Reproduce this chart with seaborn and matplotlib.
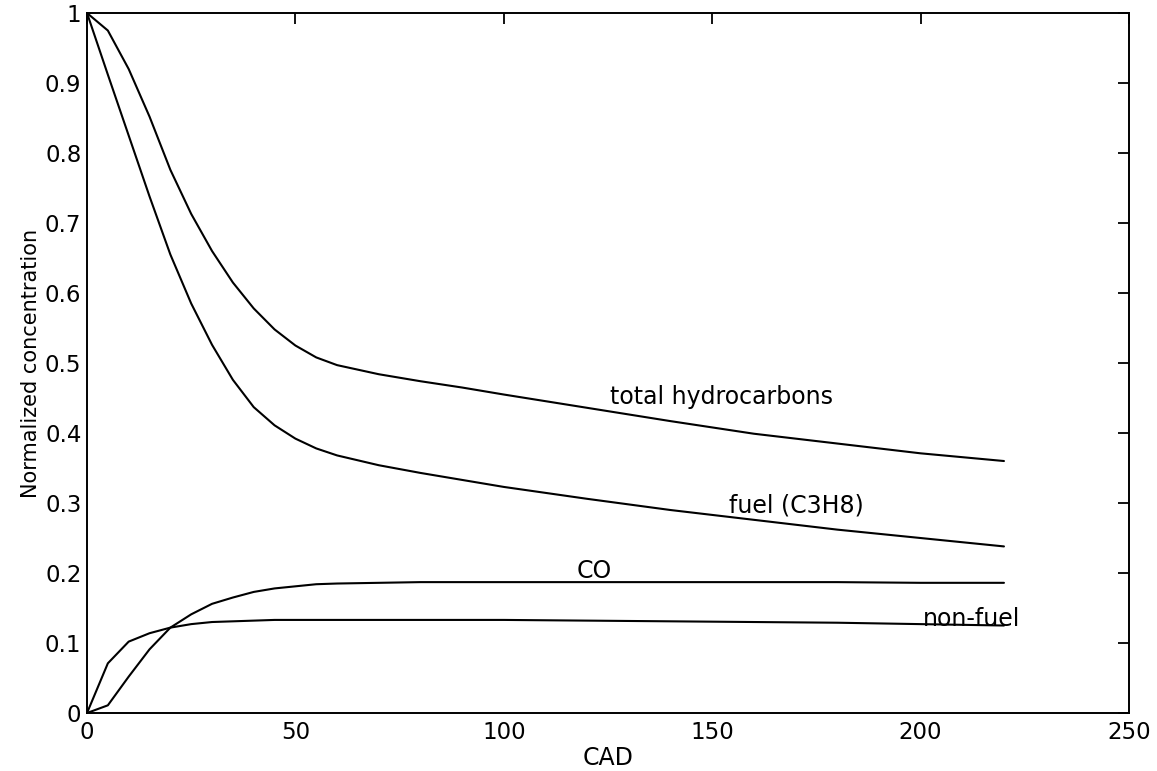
import numpy as np
import pandas as pd
import matplotlib
matplotlib.use("Agg")
import matplotlib.pyplot as plt
import seaborn as sns

cad = [0, 5, 10, 15, 20, 25, 30, 35, 40, 45, 50, 55, 60, 70, 80, 90, 100, 120, 140, 160, 180, 200, 220]
total_hc = [1.0, 0.975, 0.92, 0.852, 0.776, 0.713, 0.66, 0.615, 0.578, 0.548, 0.525, 0.508, 0.497,
            0.484, 0.474, 0.465, 0.455, 0.436, 0.417, 0.399, 0.385, 0.371, 0.36]
fuel = [1.0, 0.912, 0.825, 0.738, 0.655, 0.585, 0.526, 0.476, 0.437, 0.411, 0.392, 0.378, 0.368,
        0.354, 0.343, 0.333, 0.323, 0.306, 0.29, 0.276, 0.262, 0.25, 0.238]
co = [0.0, 0.011, 0.052, 0.091, 0.122, 0.141, 0.156, 0.165, 0.173, 0.178, 0.181, 0.184, 0.185,
      0.186, 0.187, 0.187, 0.187, 0.187, 0.187, 0.187, 0.187, 0.186, 0.186]
non_fuel = [0.0, 0.071, 0.102, 0.114, 0.122, 0.127, 0.13, 0.131, 0.132, 0.133, 0.133, 0.133, 0.133,
            0.133, 0.133, 0.133, 0.133, 0.132, 0.131, 0.130, 0.129, 0.127, 0.125]

series_names = ["total hydrocarbons", "fuel (C3H8)", "CO", "non-fuel"]
label_x = [125.5, 154.0, 117.5, 200.5]
label_y = [0.452, 0.297, 0.203, 0.134]

xticks = [0, 50, 100, 150, 200, 250]
yticks = [0, 0.1, 0.2, 0.3, 0.4, 0.5, 0.6, 0.7, 0.8, 0.9, 1]
ytick_labels = ["0", "0.1", "0.2", "0.3", "0.4", "0.5", "0.6", "0.7", "0.8", "0.9", "1"]

sns.set_style("white")
plt.rcParams["font.family"] = ["DejaVu Sans"]
plt.rcParams["text.color"] = "black"
plt.rcParams["axes.labelcolor"] = "black"
plt.rcParams["xtick.color"] = "black"
plt.rcParams["ytick.color"] = "black"

df = pd.DataFrame({
    "CAD": cad * 4,
    "value": total_hc + fuel + co + non_fuel,
    "series": sum([[n] * len(cad) for n in series_names], []),
})

fig = plt.figure(figsize=(11.57, 7.71), dpi=100)
ax = fig.add_axes([0.0752, 0.0752, 0.9006, 0.9079])

sns.lineplot(data=df, x="CAD", y="value", units="series", estimator=None,
             color="black", linewidth=1.5, ax=ax, legend=False)

for name, lx, ly in zip(series_names, label_x, label_y):
    ax.text(lx, ly, name, fontsize=17, ha="left", va="center", color="black")

ax.set_xlim(0, 250)
ax.set_ylim(0, 1)
ax.set_xticks(xticks)
ax.set_xticklabels([str(t) for t in xticks])
ax.set_yticks(yticks)
ax.set_yticklabels(ytick_labels)
ax.set_xlabel("CAD", fontsize=17, labelpad=1, color="black")
ax.set_ylabel("Normalized concentration", fontsize=15, labelpad=3, color="black")
ax.tick_params(axis="both", which="both", direction="in", length=8, width=1.3,
               top=True, right=True, labelsize=16.5, color="black", labelcolor="black")
ax.tick_params(axis="x", pad=6)
ax.tick_params(axis="y", pad=4)
for s in ax.spines.values():
    s.set_visible(True)
    s.set_color("black")
    s.set_linewidth(1.4)

fig.savefig("out.png", dpi=100, facecolor="white")
